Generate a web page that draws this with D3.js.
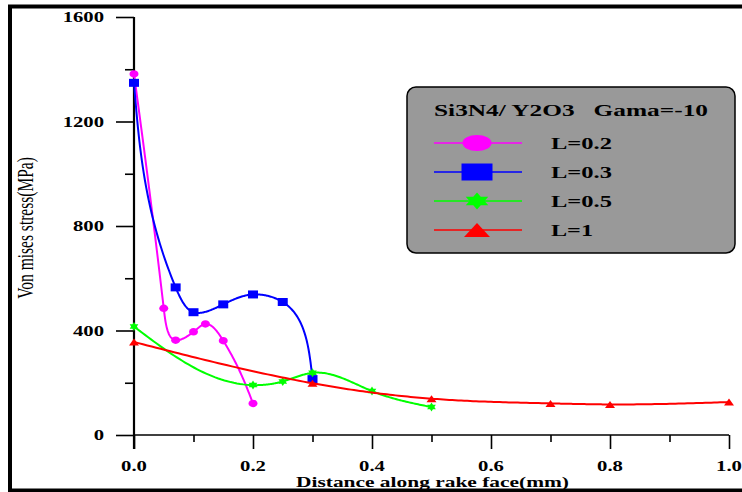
<!DOCTYPE html>
<html>
<head>
<meta charset="utf-8">
<script src="https://cdn.jsdelivr.net/npm/d3@7"></script>
<style>
html,body{margin:0;padding:0;background:#fff;}
svg{display:block;}
text{font-family:"Liberation Serif","Times New Roman",serif;white-space:pre;}
</style>
</head>
<body>
<svg id="chart" width="742" height="492"></svg>
<script>
// ---- data ----
const seriesNames = ["L=0.2", "L=0.3", "L=0.5", "L=1"];
const xL02 = [0, 0.05, 0.07, 0.10, 0.12, 0.15, 0.20];
const yL02 = [1382, 485, 363, 395, 425, 361, 121];
const xL03 = [0, 0.07, 0.10, 0.15, 0.20, 0.25, 0.30];
const yL03 = [1348, 565, 470, 500, 538, 509, 214];
const xL05 = [0, 0.20, 0.25, 0.30, 0.40, 0.50];
const yL05 = [415, 191, 205, 238, 168, 107];
const xL1 = [0, 0.30, 0.50, 0.70, 0.80, 1.00];
const yL1 = [356, 198, 139, 121, 117, 126];
const yTicksMajor = [0, 400, 800, 1200, 1600];
const yTicksMinor = [200, 600, 1000, 1400];
const xTicksMajor = [0, 0.2, 0.4, 0.6, 0.8, 1.0];
const xTicksMinor = [0.1, 0.3, 0.5, 0.7, 0.9];
const legendTitle = "Si3N4/ Y2O3   Gama=-10";
const xTitle = "Distance along rake face(mm)";
const yTitle = "Von mises stress(MPa)";

const colors = ["#ff00ff", "#0000ff", "#00ff00", "#ff0000"];
const shapes = ["circle", "square", "star", "triangle"];
const series = [
  {name: seriesNames[0], xs: xL02, ys: yL02},
  {name: seriesNames[1], xs: xL03, ys: yL03},
  {name: seriesNames[2], xs: xL05, ys: yL05},
  {name: seriesNames[3], xs: xL1, ys: yL1}
];

const SX = 1.38; // horizontal stretch of the original image text

const svg = d3.select("#chart");
const x = d3.scaleLinear().domain([0, 1]).range([134, 729]);
const y = d3.scaleLinear().domain([0, 1600]).range([435, 17]);

// axes
const yAxis = d3.axisLeft(y).tickValues(yTicksMajor).tickSize(18).tickFormat("");
const yAxisMinor = d3.axisLeft(y).tickValues(yTicksMinor).tickSize(9).tickFormat("");
const xAxis = d3.axisBottom(x).tickValues(xTicksMajor).tickSize(14).tickFormat("");
const xAxisMinor = d3.axisBottom(x).tickValues(xTicksMinor).tickSize(7).tickFormat("");

function styleAxis(g){
  g.select(".domain").remove();
  g.selectAll(".tick line").attr("stroke", "#000").attr("stroke-width", 1.6);
}
svg.append("g").attr("transform", "translate(134,0)").call(yAxis).call(styleAxis);
svg.append("g").attr("transform", "translate(134,0)").call(yAxisMinor).call(styleAxis);
svg.append("g").attr("transform", "translate(0,435)").call(xAxis).call(styleAxis);
svg.append("g").attr("transform", "translate(0,435)").call(xAxisMinor).call(styleAxis);
svg.append("line").attr("x1", 134).attr("x2", 134).attr("y1", y(1600)).attr("y2", 449)
  .attr("stroke", "#000").attr("stroke-width", 2.2);
svg.append("line").attr("x1", 134).attr("x2", x(1)).attr("y1", 435).attr("y2", 435)
  .attr("stroke", "#000").attr("stroke-width", 1.6);

function stretchedText(px, py, str, opts) {
  const sx = opts.sx || SX;
  return svg.append("text")
    .attr("transform", `translate(${px},${py}) scale(${sx},1)` + (opts.rotate ? ` rotate(${opts.rotate})` : ""))
    .attr("text-anchor", opts.anchor || "start")
    .attr("font-size", opts.size || 15)
    .attr("font-weight", opts.weight || "bold")
    .attr("fill", "#000")
    .text(str);
}
function fittedText(px, py, str, len, opts) {
  return svg.append("text")
    .attr("x", px).attr("y", py)
    .attr("text-anchor", opts.anchor || "start")
    .attr("font-size", opts.size || 16)
    .attr("font-weight", opts.weight || "bold")
    .attr("textLength", len).attr("lengthAdjust", "spacingAndGlyphs")
    .attr("fill", "#000")
    .text(str);
}

// tick labels
yTicksMajor.forEach(v => stretchedText(104, y(v) + 5, d3.format("d")(v), {anchor: "end", size: 15}));
xTicksMajor.forEach(v => stretchedText(x(v), 471, d3.format(".1f")(v), {anchor: "middle", size: 15}));

// axis titles
fittedText(296, 487, xTitle, 273, {size: 15});
stretchedText(33, 228, yTitle, {anchor: "middle", size: 15.5, weight: "normal", rotate: -90, sx: 1.5});

// parametric natural cubic spline (chord-length parameter, screen space)
function naturalSpline(ts, vs) {
  const n = vs.length - 1;
  const M = new Array(n + 1).fill(0);
  if (n >= 2) {
    const a = [], b = [], c = [], r = [];
    for (let i = 1; i < n; i++) {
      const h0 = ts[i] - ts[i - 1], h1 = ts[i + 1] - ts[i];
      a.push(h0); b.push(2 * (h0 + h1)); c.push(h1);
      r.push(6 * ((vs[i + 1] - vs[i]) / h1 - (vs[i] - vs[i - 1]) / h0));
    }
    const m = b.length;
    for (let i = 1; i < m; i++) {
      const w = a[i] / b[i - 1];
      b[i] -= w * c[i - 1];
      r[i] -= w * r[i - 1];
    }
    const sol = new Array(m);
    sol[m - 1] = r[m - 1] / b[m - 1];
    for (let i = m - 2; i >= 0; i--) sol[i] = (r[i] - c[i] * sol[i + 1]) / b[i];
    for (let i = 1; i < n; i++) M[i] = sol[i - 1];
  }
  return function(t, i) {
    const h = ts[i + 1] - ts[i];
    const A = ts[i + 1] - t, B = t - ts[i];
    return M[i] * A * A * A / (6 * h) + M[i + 1] * B * B * B / (6 * h) +
      (vs[i] / h - M[i] * h / 6) * A + (vs[i + 1] / h - M[i + 1] * h / 6) * B;
  };
}
function splinePoints(px) {
  const ts = [0];
  for (let i = 1; i < px.length; i++) {
    ts.push(ts[i - 1] + Math.hypot(px[i][0] - px[i - 1][0], px[i][1] - px[i - 1][1]));
  }
  const fx = naturalSpline(ts, px.map(p => p[0]));
  const fy = naturalSpline(ts, px.map(p => p[1]));
  const out = [px[0]];
  for (let i = 0; i < px.length - 1; i++) {
    const steps = 40;
    for (let k = 1; k <= steps; k++) {
      const t = ts[i] + (ts[i + 1] - ts[i]) * k / steps;
      out.push([fx(t, i), fy(t, i)]);
    }
  }
  return out;
}

function markerPath(shape, w, h) {
  const hw = w / 2, hh = h / 2;
  if (shape === "square") return `M${-hw},${-hh}H${hw}V${hh}H${-hw}Z`;
  if (shape === "triangle") return `M0,${-hh}L${hw},${hh}L${-hw},${hh}Z`;
  const pts = [];
  for (let i = 0; i < 12; i++) {
    const ang = -Math.PI / 2 + i * Math.PI / 6;
    const r = i % 2 === 0 ? 1 : 1 / Math.sqrt(3);
    pts.push([Math.cos(ang) * r * hw, Math.sin(ang) * r * hh]);
  }
  return "M" + pts.map(p => p[0].toFixed(2) + "," + p[1].toFixed(2)).join("L") + "Z";
}
function drawMarker(g, shape, cx, cy, w, h, color) {
  if (shape === "circle") {
    g.append("ellipse").attr("cx", cx).attr("cy", cy).attr("rx", w / 2).attr("ry", h / 2).attr("fill", color);
  } else {
    g.append("path").attr("d", markerPath(shape, w, h)).attr("transform", `translate(${cx},${cy})`).attr("fill", color);
  }
}
const markerSize = {circle: [9, 7.5], square: [10, 8], star: [10, 9], triangle: [10, 7]};

// series
const line = d3.line().x(d => d[0]).y(d => d[1]);
series.forEach((s, i) => {
  const px = s.xs.map((xv, j) => [x(xv), y(s.ys[j])]);
  const g = svg.append("g");
  g.append("path").attr("d", line(splinePoints(px))).attr("fill", "none")
    .attr("stroke", colors[i]).attr("stroke-width", 2);
  const ms = markerSize[shapes[i]];
  px.forEach(p => drawMarker(g, shapes[i], p[0], p[1], ms[0], ms[1], colors[i]));
});

// legend
const lg = svg.append("g");
lg.append("rect").attr("x", 407).attr("y", 87).attr("width", 328).attr("height", 166)
  .attr("rx", 9).attr("ry", 9).attr("fill", "#999999").attr("stroke", "#000").attr("stroke-width", 1.5);
fittedText(434, 116, legendTitle, 274, {size: 16});
const legendMarker = {circle: [29, 16], square: [31, 17], star: [26, 17], triangle: [26, 14]};
const legendYs = [143, 172, 201, 230];
const legendLens = [61, 61, 61, 42];
seriesNames.forEach((n, i) => {
  const ly = legendYs[i];
  lg.append("line").attr("x1", 434).attr("x2", 522).attr("y1", ly).attr("y2", ly)
    .attr("stroke", colors[i]).attr("stroke-width", 1.5);
  const ms = legendMarker[shapes[i]];
  drawMarker(lg, shapes[i], 477, ly, ms[0], ms[1], colors[i]);
  fittedText(551, ly + 6, n, legendLens[i], {size: 16});
});

// outer frame (on top, like the original)
svg.append("rect").attr("x", 10).attr("y", 6.5).attr("width", 760).attr("height", 484)
  .attr("fill", "none").attr("stroke", "#000").attr("stroke-width", 4);
</script>
</body>
</html>
